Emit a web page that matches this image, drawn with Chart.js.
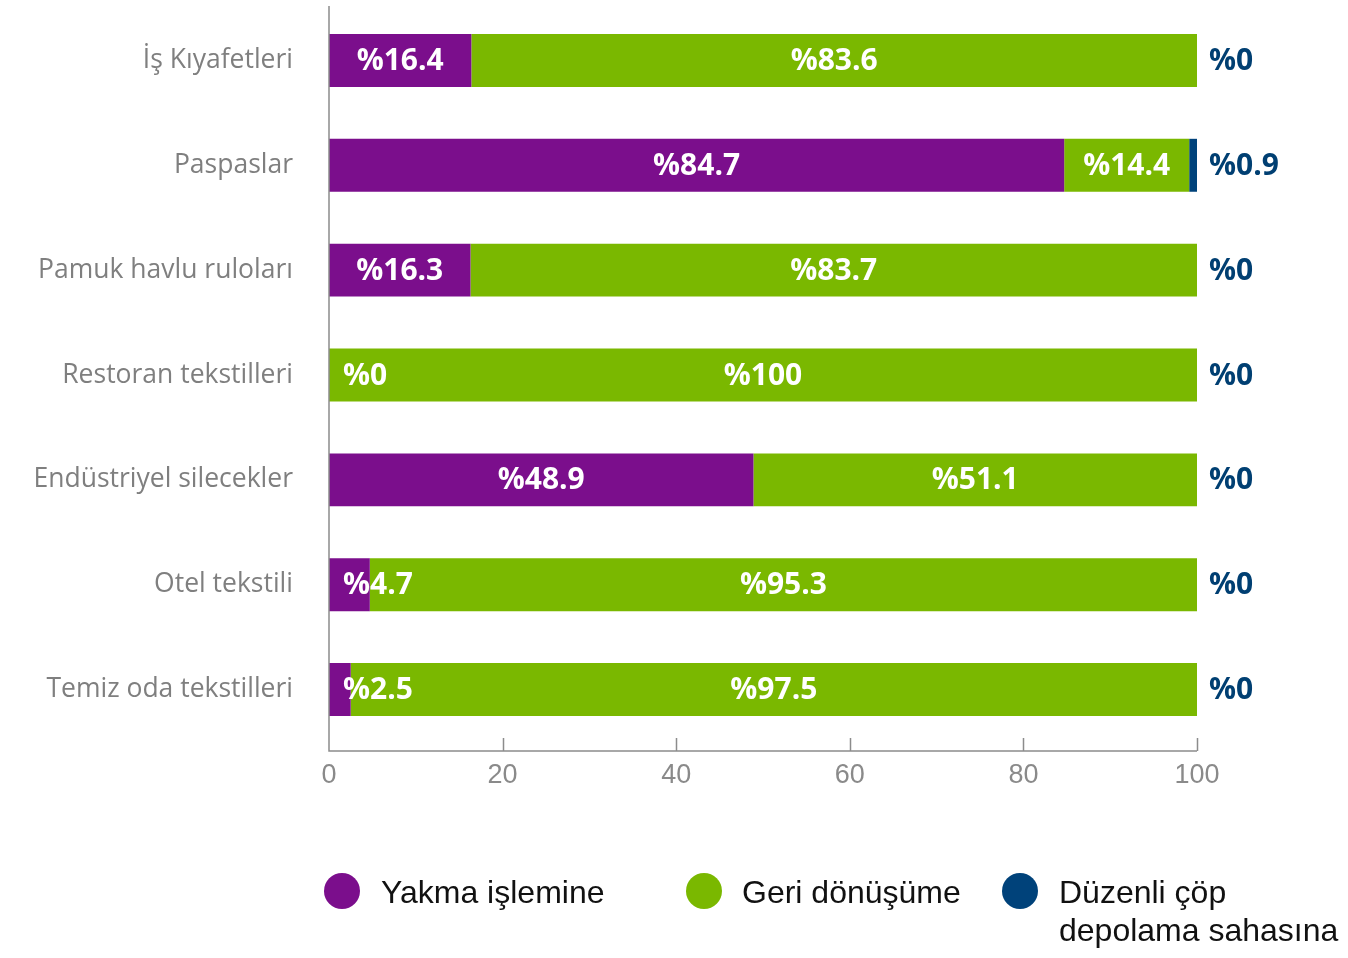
<!DOCTYPE html>
<html>
<head>
<meta charset="utf-8">
<script src="https://cdn.jsdelivr.net/npm/chart.js@4.4.1/dist/chart.umd.min.js"></script>
<style>
  html,body{margin:0;padding:0;background:#fff;}
  #wrap{position:relative;width:1348px;height:958px;}
  canvas{position:absolute;left:0;top:0;}
  .lg{position:absolute;font-family:"Liberation Sans",Arial,sans-serif;font-size:32px;color:#111;line-height:38px;}
  .dot{position:absolute;width:36px;height:36px;border-radius:50%;}
</style>
</head>
<body>
<div id="wrap">
  <canvas id="c" width="1348" height="958"></canvas>
  <div class="dot" style="left:324px;top:873px;background:#7b0e8c"></div>
  <div class="lg" style="left:381px;top:873px;">Yakma işlemine</div>
  <div class="dot" style="left:686px;top:873px;background:#7ab800"></div>
  <div class="lg" style="left:742px;top:873px;">Geri dönüşüme</div>
  <div class="dot" style="left:1002px;top:873px;background:#00427a"></div>
  <div class="lg" style="left:1059px;top:873px;">Düzenli çöp<br>depolama sahasına</div>
</div>
<script>
const categories = ['İş Kıyafetleri','Paspaslar','Pamuk havlu ruloları','Restoran tekstilleri','Endüstriyel silecekler','Otel tekstili','Temiz oda tekstilleri'];
const seriesNames = ['Yakma işlemine','Geri dönüşüme','Düzenli çöp depolama sahasına'];
const yakma = [16.4, 84.7, 16.3, 0, 48.9, 4.7, 2.5];
const geri = [83.6, 14.4, 83.7, 100, 51.1, 95.3, 97.5];
const duzenli = [0, 0.9, 0, 0, 0, 0, 0];
const xTicks = [0, 20, 40, 60, 80, 100];

const PURPLE = '#7b0e8c', GREEN = '#7ab800', BLUE = '#00427a';
const LABEL_FONT = 'bold 30px "Open Sans", sans-serif';

const axisPlugin = {
  id: 'axisLines',
  afterDatasetsDraw(chart) {
    const ctx = chart.ctx, ca = chart.chartArea, xs = chart.scales.x;
    const axisY = ca.bottom + 9;
    ctx.save();
    ctx.strokeStyle = '#8c8c8c';
    ctx.lineWidth = 1.5;
    ctx.beginPath();
    ctx.moveTo(ca.left, ca.top - 2);
    ctx.lineTo(ca.left, axisY);
    ctx.lineTo(ca.right, axisY);
    xTicks.forEach(v => {
      if (v === 0) return;
      const px = Math.round(xs.getPixelForValue(v)) + 0.5;
      ctx.moveTo(px, axisY);
      ctx.lineTo(px, axisY - 13);
    });
    ctx.stroke();
    ctx.restore();
  }
};

const labelPlugin = {
  id: 'barLabels',
  afterDatasetsDraw(chart) {
    const ctx = chart.ctx, ca = chart.chartArea;
    ctx.save();
    ctx.font = LABEL_FONT;
    ctx.textBaseline = 'middle';
    chart.data.datasets.forEach((ds, di) => {
      const meta = chart.getDatasetMeta(di);
      meta.data.forEach((bar, i) => {
        const v = ds.data[i];
        const txt = '%' + v;
        const w = ctx.measureText(txt).width;
        const left = Math.min(bar.base, bar.x), right = Math.max(bar.base, bar.x);
        const y = bar.y + 1;
        if (di === 2) {
          ctx.fillStyle = '#003f72';
          ctx.textAlign = 'left';
          ctx.fillText(txt, ca.right + 12, y);
        } else {
          ctx.fillStyle = '#ffffff';
          if (right - left > w + 20) {
            ctx.textAlign = 'center';
            ctx.fillText(txt, (left + right) / 2, y);
          } else {
            ctx.textAlign = 'left';
            ctx.fillText(txt, ca.left + 14, y);
          }
        }
      });
    });
    ctx.restore();
  }
};

new Chart(document.getElementById('c'), {
  type: 'bar',
  data: {
    labels: categories,
    datasets: [
      { label: seriesNames[0], data: yakma, backgroundColor: PURPLE },
      { label: seriesNames[1], data: geri, backgroundColor: GREEN },
      { label: seriesNames[2], data: duzenli, backgroundColor: BLUE }
    ]
  },
  options: {
    indexAxis: 'y',
    responsive: false,
    animation: false,
    categoryPercentage: 1,
    barPercentage: 0.505,
    layout: { padding: { left: 0, right: 151, top: 8, bottom: 156 } },
    plugins: { legend: { display: false }, tooltip: { enabled: false } },
    scales: {
      x: {
        stacked: true,
        min: 0, max: 100,
        afterBuildTicks(scale) { scale.ticks = xTicks.map(v => ({ value: v })); },
        grid: { display: false, drawTicks: false },
        border: { display: false },
        ticks: { padding: 17, color: '#8a8a8a', font: { family: '"Liberation Sans", Arial, sans-serif', size: 27 } },
        afterFit(scale) { scale.height = 60; scale.paddingLeft = 0; scale.paddingRight = 0; }
      },
      y: {
        stacked: true,
        grid: { display: false, drawTicks: false },
        border: { display: false },
        ticks: { padding: 36, color: '#7f7f7f', font: { family: '"Open Sans", sans-serif', size: 26.5 } },
        afterFit(scale) { scale.width = 329; scale.paddingTop = 0; scale.paddingBottom = 0; }
      }
    }
  },
  plugins: [axisPlugin, labelPlugin]
});
</script>
</body>
</html>
